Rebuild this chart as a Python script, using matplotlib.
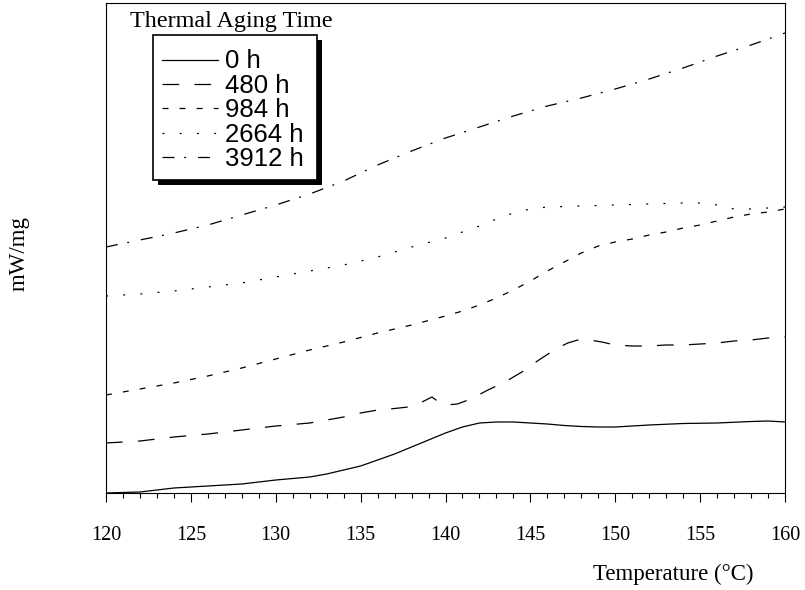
import matplotlib
matplotlib.use("Agg")
import matplotlib.pyplot as plt
from matplotlib.ticker import MultipleLocator
from matplotlib.patches import Rectangle

plt.rcParams['lines.scale_dashes'] = False

# ---- data (y in arbitrary heat-flow units) ----
t_0h = [120, 122, 124, 126, 128, 130, 132, 133, 134, 135, 136, 137, 138, 139, 140, 141, 142, 143,
        144, 145, 146, 147, 148, 149, 150, 151, 152, 154, 156, 158, 159, 160]
v_0h = [0, 1, 5, 7, 9, 13, 16, 19, 23, 27, 33, 39, 46, 53, 60, 66, 70, 71,
        71, 70, 69, 67.5, 66.5, 66, 66, 67, 68, 69.5, 70, 71.5, 72, 71]

t_480h = [120, 122, 124, 126, 128, 130, 132, 134, 135, 136, 137, 137.8, 138.5, 139.2, 139.6, 140,
          140.7, 141.5, 142.5, 143.5, 144.5, 145.5, 146.5, 147.2, 147.8, 148.5, 149.2, 150, 151,
          152, 153, 154, 155, 156, 157, 158, 159, 160]
v_480h = [50, 52, 56, 59, 63, 67, 70, 76, 80, 83, 84.5, 86, 90, 96, 91, 88,
          89, 94, 103, 111, 121, 133, 144, 150, 153, 153, 151, 148, 147,
          147, 148, 148, 149, 150, 152, 153, 155, 156]

t_984h = [120, 122, 124, 126, 128, 130, 132, 134, 136, 138, 140, 141, 142, 143, 144, 145, 146, 147,
          148, 149, 150, 151, 152, 153, 154, 155, 156, 157, 158, 159, 160]
v_984h = [98, 104, 110, 117, 125, 134, 143, 151, 160, 168, 177, 182, 188, 195, 203, 212, 222, 231,
          240, 247, 251, 254, 258, 261, 265, 268, 272, 276, 279, 281, 284]

t_2664h = [120, 122, 124, 126, 128, 130, 132, 134, 136, 138, 140, 142, 143, 144, 145, 146, 148,
           150, 152, 154, 155, 156, 157, 158, 159, 160]
v_2664h = [197, 199, 202, 206, 210, 216, 222, 228, 236, 246, 255, 267, 274, 280, 284, 286, 287,
           288, 289, 290, 290, 288, 284, 284, 285, 286]

t_3912h = [120, 122, 124, 126, 128, 130, 132, 134, 136, 138, 140, 142, 144, 146, 148, 150, 152,
           154, 156, 158, 160]
v_3912h = [246, 253, 260, 268, 278, 288, 299, 312, 328, 342, 355, 366, 377, 387, 395, 404, 414,
           425, 437, 448, 460]

labels = ["0 h", "480 h", "984 h", "2664 h", "3912 h"]
xticks = [120, 125, 130, 135, 140, 145, 150, 155, 160]

serif = ["Liberation Serif", "DejaVu Serif"]
sans = ["Liberation Sans", "DejaVu Sans"]

W, H = 805, 590
L, R, T, B = 106, 785, 3, 493
fig = plt.figure(figsize=(W/100, H/100), dpi=100)
ax = fig.add_axes([L/W, 1-B/H, (R-L)/W, (B-T)/H])

def ax_x(px):
    return (px - L) / (R - L)

def ax_y(py):
    return (B - py) / (B - T)

lw = 0.9
styles = ['-', (0, (12, 11)), (0, (4.3, 8)), (0, (1.4, 11)), (0, (8.6, 7, 1.4, 8.6))]
series = [(t_0h, v_0h), (t_480h, v_480h), (t_984h, v_984h), (t_2664h, v_2664h), (t_3912h, v_3912h)]
for (t, v), ls, lab in zip(series, styles, labels):
    ax.plot(t, v, color='black', lw=lw, linestyle=ls, label=lab)

ax.set_xlim(120, 160)
ax.set_ylim(0, 490)
ax.set_xticks(xticks)
ax.xaxis.set_minor_locator(MultipleLocator(1))
ax.set_yticks([])
ax.tick_params(axis='x', which='major', direction='out', length=6.5, width=0.8, pad=17)
ax.tick_params(axis='x', which='minor', direction='out', length=3.5, width=0.8)
for lab in ax.get_xticklabels():
    lab.set_family(serif)
    lab.set_fontsize(14.5)
for sp in ax.spines.values():
    sp.set_linewidth(0.8)
    sp.set_color('black')

ax.set_xlabel("Temperature (°C)", family=serif, fontsize=16.5, ha='right', va='center')
ax.xaxis.set_label_coords(ax_x(753), ax_y(574))
ax.set_ylabel("mW/mg", family=serif, fontsize=16.5, va='center')
ax.yaxis.set_label_coords(ax_x(19), ax_y(254))

# legend frame with solid black drop shadow
bx0, bx1, by0, by1 = 153, 317, 35, 180
sh = 5
ax.add_patch(Rectangle((ax_x(bx0 + sh), ax_y(by1 + sh)), ax_x(bx1 + sh) - ax_x(bx0 + sh),
                       ax_y(by0 + sh) - ax_y(by1 + sh), transform=ax.transAxes,
                       facecolor='black', edgecolor='black', lw=0, zorder=4.4, clip_on=False))
ax.add_patch(Rectangle((ax_x(bx0), ax_y(by1)), ax_x(bx1) - ax_x(bx0), ax_y(by0) - ax_y(by1),
                       transform=ax.transAxes, facecolor='white', edgecolor='black', lw=1.2,
                       zorder=4.5, clip_on=False))

leg = ax.legend(loc='upper left', bbox_to_anchor=(ax_x(162), ax_y(49.5)),
                borderaxespad=0, borderpad=0, frameon=False,
                prop={'family': sans, 'size': 18.5}, handlelength=2.18, handletextpad=0.27,
                labelspacing=0.015)
leg.set_zorder(5)

ax.text(ax_x(130), ax_y(22), "Thermal Aging Time", transform=ax.transAxes,
        family=serif, fontsize=17.4, ha='left', va='center')

fig.savefig("out.png", dpi=100)
